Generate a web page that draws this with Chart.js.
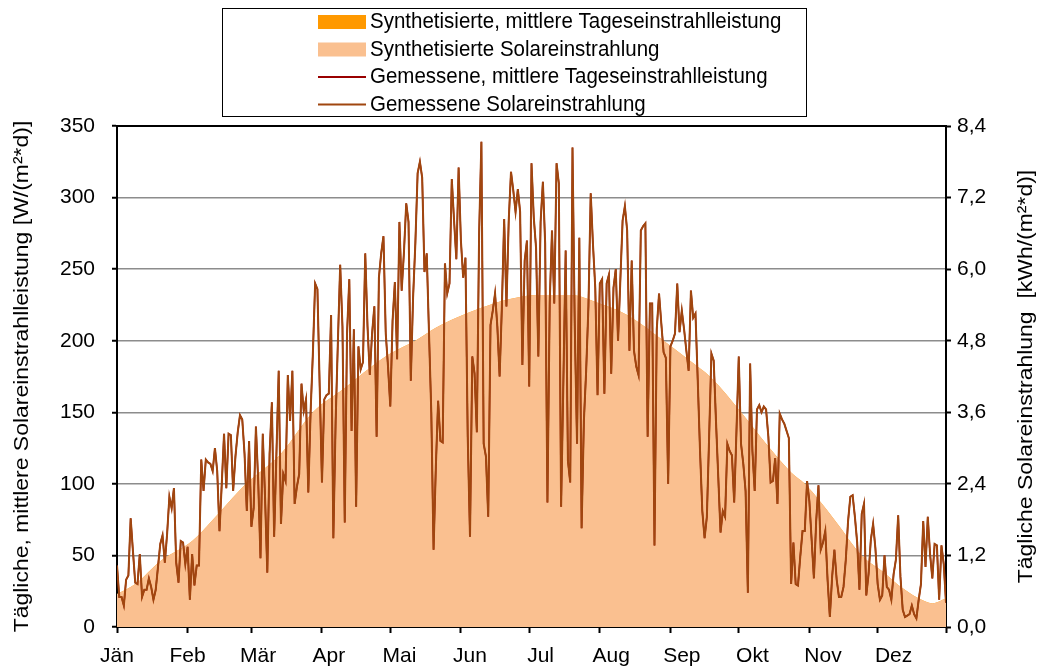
<!DOCTYPE html>
<html lang="de">
<head>
<meta charset="utf-8">
<title>Solareinstrahlung</title>
<script src="https://cdn.jsdelivr.net/npm/chart.js@4.4.1/dist/chart.umd.min.js"></script>
<style>
    html, body { margin: 0; padding: 0; background: #ffffff; }
    #chart { display: block; }
</style>
</head>
<body>
<canvas id="chart" width="1037" height="668"></canvas>
<script>
// Month axis: tick marks at month starts, labels every 31 days (as in the original)
const monthStartDays = [0, 31, 59, 90, 120, 151, 181, 212, 243, 273, 304, 334, 364];
const monthLabelDays = [0, 31, 62, 93, 124, 155, 186, 217, 248, 279, 310, 341];
const monthLabels = ['Jän', 'Feb', 'Mär', 'Apr', 'Mai', 'Jun', 'Jul', 'Aug', 'Sep', 'Okt', 'Nov', 'Dez'];

// Right axis ticks (kWh/(m²*d))
const rightTickValues = [0, 1.2, 2.4, 3.6, 4.8, 6.0, 7.2, 8.4];

// Synthesized mean daily irradiance [W/m²], read at sample days
const synthDays = [0, 8, 19, 33, 45, 56, 72, 86, 100, 111, 120, 131, 140, 149, 160, 172, 185, 199, 212, 224, 240, 250, 261, 274, 285, 296, 302, 315, 327, 336, 345, 352, 358, 364];
const synthValues = [23, 30, 46, 60, 80, 99, 121, 150, 167, 181, 191, 200, 209, 216, 223, 229, 232, 232, 226, 218, 200, 188, 174, 150, 128, 108, 100, 75, 50, 39, 27, 20, 16.5, 20];

// Measured mean daily irradiance [W/m²], one value per day
const measuredValues = [
    // Jän
    43, 21, 21, 15, 33, 36, 76, 53, 31, 30, 51, 21, 26, 26, 34, 28, 19, 26, 42, 58, 64, 45, 65, 91, 83, 97, 45, 31, 60, 59, 44, 56, 19, 51, 29, 43, 43,
    // Feb
    117, 95, 117, 115, 114, 109, 125, 109, 67, 100, 135, 97, 135, 134, 95, 119, 136, 148, 145, 121, 81, 130, 70, 83, 140, 102, 48, 135, 91, 38, 121, 157, 63, 121,
    // Mär / Apr
    179, 72, 107, 102, 176, 144, 179, 86, 98, 107, 170, 151, 159, 94, 150, 191, 240, 236, 168, 101, 159, 162, 163, 218, 62, 144, 200, 253, 210, 73, 205, 243, 137, 208, 84, 196, 180, 185,
    // Apr / Mai
    261, 210, 176, 205, 224, 133, 244, 261, 273, 205, 182, 154, 214, 241, 187, 283, 235, 262, 296, 283, 172, 230, 268, 317, 325, 314, 248, 261, 205, 150, 54, 112, 158, 130, 129, 254, 233, 240, 313, 284,
    // Mai / Jun / Jul
    257, 321, 270, 244, 258, 133, 63, 189, 177, 136, 275, 339, 128, 119, 77, 211, 221, 233, 210, 175, 224, 285, 224, 284, 318, 305, 290, 306, 290, 183, 256, 270, 168, 324, 286, 265, 189, 283,
    // Jul / Aug
    311, 268, 87, 227, 277, 226, 324, 310, 84, 172, 263, 116, 101, 335, 210, 128, 272, 69, 144, 179, 224, 303, 267, 237, 162, 240, 243, 163, 240, 246, 177, 237, 250, 200, 242, 284, 294,
    // Aug / Sep
    277, 193, 256, 193, 182, 176, 277, 280, 282, 133, 226, 226, 57, 208, 233, 212, 192, 188, 100, 196, 200, 205, 240, 206, 221, 208, 193, 179, 235, 216, 219, 172, 123, 81, 62, 77, 133, 191,
    // Sep / Okt
    186, 144, 105, 66, 81, 77, 128, 123, 120, 87, 137, 189, 128, 114, 95, 24, 184, 123, 95, 152, 155, 150, 154, 152, 133, 101, 102, 118, 86, 149, 145, 142, 137, 132, 30, 59, 30,
    // Okt / Nov
    29, 49, 67, 67, 102, 88, 61, 34, 74, 99, 54, 59, 67, 33, 7, 35, 54, 33, 21, 21, 28, 47, 74, 91, 92, 77, 59, 26, 79, 86, 22, 37, 61, 72,
    // Dez
    55, 30, 19, 22, 50, 28, 26, 19, 37, 47, 78, 35, 12, 7, 8, 9, 15, 9, 6, 19, 30, 74, 42, 77, 51, 34, 58, 57, 19, 57, 44, 17
];

const FONT_FAMILY = "'Liberation Sans', Arial, sans-serif";
const TEXT_SIZE = 20.5;
const TEXT_STRETCH = 1.12; // original text is drawn a bit taller than wide

// Boxed legend, one entry per row
const boxLegend = {
    id: 'boxLegend',
    afterDraw(chart, args, opts) {
        const ctx = chart.ctx;
        ctx.save();
        ctx.strokeStyle = '#000000';
        ctx.lineWidth = 1;
        ctx.strokeRect(opts.left + 0.5, opts.top + 0.5, opts.width, opts.height);
        ctx.font = `${TEXT_SIZE}px ${FONT_FAMILY}`;
        ctx.textBaseline = 'middle';
        ctx.textAlign = 'left';
        chart.data.datasets.forEach((ds, i) => {
            const y = opts.firstRow + i * opts.rowHeight;
            if (ds.fill) {
                ctx.fillStyle = ds.backgroundColor;
                ctx.fillRect(opts.swatchX, y - 7, opts.swatchWidth, 14);
            } else {
                ctx.strokeStyle = ds.borderColor;
                ctx.lineWidth = 2;
                ctx.beginPath();
                ctx.moveTo(opts.swatchX, y);
                ctx.lineTo(opts.swatchX + opts.swatchWidth, y);
                ctx.stroke();
            }
            ctx.save();
            ctx.translate(opts.textX, y);
            ctx.scale(1, TEXT_STRETCH);
            ctx.fillStyle = '#000000';
            ctx.fillText(ds.label, 0, 0);
            ctx.restore();
        });
        ctx.restore();
    }
};

// Axis titles, both read bottom to top
const axisTitles = {
    id: 'axisTitles',
    afterDraw(chart, args, opts) {
        const { ctx, chartArea } = chart;
        const midY = (chartArea.top + chartArea.bottom) / 2;
        opts.items.forEach(item => {
            const text = chart.scales[item.scale].options.title.text;
            ctx.save();
            ctx.translate(item.x, midY);
            ctx.rotate(-Math.PI / 2);
            ctx.scale(TEXT_STRETCH, 1);
            ctx.font = `${TEXT_SIZE}px ${FONT_FAMILY}`;
            ctx.textAlign = 'center';
            ctx.textBaseline = 'middle';
            ctx.fillStyle = '#000000';
            ctx.fillText(text, 0, 0);
            ctx.restore();
        });
    }
};

// Black line along the top of the plot area
const plotFrame = {
    id: 'plotFrame',
    afterDatasetsDraw(chart) {
        const { ctx, chartArea } = chart;
        ctx.save();
        ctx.strokeStyle = '#000000';
        ctx.lineWidth = 2;
        ctx.beginPath();
        ctx.moveTo(chartArea.left, chartArea.top);
        ctx.lineTo(chartArea.right, chartArea.top);
        ctx.stroke();
        ctx.restore();
    }
};

function createChart() {
    Chart.defaults.font.family = FONT_FAMILY;
    Chart.defaults.font.size = 21;
    Chart.defaults.color = '#000000';

    const synthPoints = synthDays.map((d, i) => ({ x: d, y: synthValues[i] }));
    const measuredPoints = measuredValues.map((v, i) => ({ x: i, y: v }));

    new Chart(document.getElementById('chart'), {
        type: 'line',
        data: {
            datasets: [
                {
                    label: 'Synthetisierte, mittlere Tageseinstrahlleistung',
                    data: synthPoints,
                    fill: 'origin',
                    backgroundColor: '#FF9900',
                    borderWidth: 0,
                    pointRadius: 0,
                    cubicInterpolationMode: 'monotone',
                    order: 4
                },
                {
                    label: 'Synthetisierte Solareinstrahlung',
                    data: synthPoints,
                    fill: 'origin',
                    backgroundColor: '#FAC090',
                    borderWidth: 0,
                    pointRadius: 0,
                    cubicInterpolationMode: 'monotone',
                    order: 3
                },
                {
                    label: 'Gemessene, mittlere Tageseinstrahlleistung',
                    data: measuredPoints,
                    fill: false,
                    borderColor: '#990000',
                    borderWidth: 1.5,
                    pointRadius: 0,
                    tension: 0,
                    order: 2
                },
                {
                    label: 'Gemessene Solareinstrahlung',
                    data: measuredPoints,
                    fill: false,
                    borderColor: '#A0460F',
                    borderWidth: 2,
                    pointRadius: 0,
                    tension: 0,
                    order: 1
                }
            ]
        },
        options: {
            responsive: false,
            animation: false,
            devicePixelRatio: 1,
            layout: { padding: { top: 126, left: 0, right: 0, bottom: 0 } },
            plugins: {
                legend: { display: false },
                tooltip: { enabled: false },
                boxLegend: {
                    left: 222, top: 8, width: 584, height: 108,
                    firstRow: 22, rowHeight: 27.5,
                    swatchX: 318, swatchWidth: 48, textX: 370
                },
                axisTitles: {
                    items: [{ scale: 'y', x: 22 }, { scale: 'y2', x: 1026 }]
                }
            },
            scales: {
                // tick marks at month starts
                x: {
                    type: 'linear',
                    position: 'bottom',
                    weight: 0,
                    min: 0,
                    max: 364,
                    afterBuildTicks: axis => { axis.ticks = monthStartDays.map(v => ({ value: v })); },
                    afterFit: axis => { axis.height = 6; },
                    ticks: { display: false },
                    grid: { drawOnChartArea: false, tickLength: 6, tickColor: '#000000', tickWidth: 2 },
                    border: { color: '#000000', width: 2 }
                },
                // month names
                xMonths: {
                    type: 'linear',
                    position: 'bottom',
                    weight: 1,
                    min: 0,
                    max: 364,
                    afterBuildTicks: axis => { axis.ticks = monthLabelDays.map(v => ({ value: v })); },
                    afterFit: axis => { axis.height = 35; },
                    ticks: {
                        autoSkip: false,
                        maxRotation: 0,
                        padding: 11,
                        callback: value => monthLabels[monthLabelDays.indexOf(value)]
                    },
                    grid: { display: false, drawTicks: false },
                    border: { display: false }
                },
                y: {
                    position: 'left',
                    min: 0,
                    max: 350,
                    afterFit: axis => { axis.width = 117; },
                    ticks: { stepSize: 50, padding: 17 },
                    grid: { color: '#8C8C8C', lineWidth: 1.5, tickLength: 5, tickColor: '#000000', tickWidth: 2 },
                    border: { color: '#000000', width: 2 },
                    title: { display: false, text: 'Tägliche, mittlere Solareinstrahlleistung [W/(m²*d)]' }
                },
                y2: {
                    position: 'right',
                    min: 0,
                    max: 8.4,
                    afterFit: axis => { axis.width = 91; },
                    afterBuildTicks: axis => { axis.ticks = rightTickValues.map(v => ({ value: v })); },
                    ticks: {
                        padding: 6,
                        callback: value => value.toFixed(1).replace('.', ',')
                    },
                    grid: { drawOnChartArea: false, tickLength: 5, tickColor: '#000000', tickWidth: 2 },
                    border: { color: '#000000', width: 2 },
                    title: { display: false, text: 'Tägliche Solareinstrahlung  [kWh/(m²*d)]' }
                }
            }
        },
        plugins: [boxLegend, axisTitles, plotFrame]
    });
}

document.addEventListener('DOMContentLoaded', createChart);
</script>
</body>
</html>
